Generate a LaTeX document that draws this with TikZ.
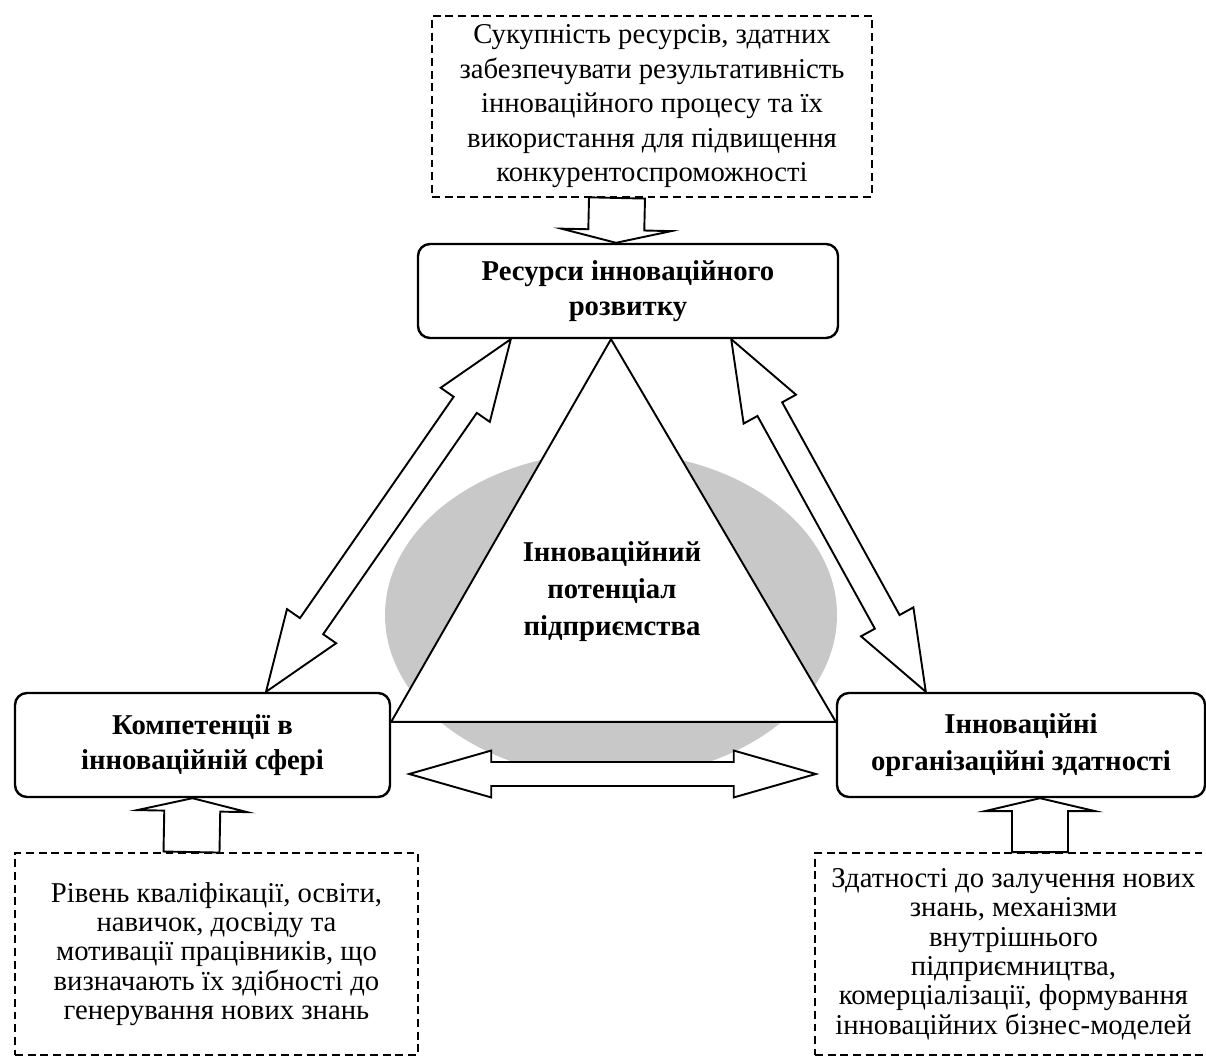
\documentclass[tikz,border=0pt]{standalone}
\usepackage{fontspec}
\setmainfont{Liberation Serif}
\usetikzlibrary{positioning,calc,shapes.geometric,backgrounds}
\definecolor{haloGray}{HTML}{C8C8C8}
\newcommand{\px}{0.418pt}
\tikzset{
  mainbox/.style={draw, line width=1pt, rounded corners=5pt, align=center,
                  font=\fontsize{12}{14.6}\selectfont\bfseries, inner sep=2pt},
  note/.style={draw, line width=0.8pt, dash pattern=on 3.3pt off 2pt,
               align=center, inner sep=2pt},
  tri/.style={draw, line width=0.8pt, fill=white, line join=miter},
  blockarrow/.style={draw, line width=0.8pt, fill=white, line join=miter},
}
% #1,#2 ends, #3 half shaft, #4 half head, #5 head length
\newcommand{\twoway}[5]{%
  \draw[blockarrow] (#1)
    -- ($(#1)!#5!(#2)!#4!90:(#2)$) -- ($(#1)!#5!(#2)!#3!90:(#2)$)
    -- ($(#2)!#5!(#1)!#3!-90:(#1)$) -- ($(#2)!#5!(#1)!#4!-90:(#1)$)
    -- (#2)
    -- ($(#2)!#5!(#1)!#4!90:(#1)$) -- ($(#2)!#5!(#1)!#3!90:(#1)$)
    -- ($(#1)!#5!(#2)!#3!-90:(#2)$) -- ($(#1)!#5!(#2)!#4!-90:(#2)$)
    -- cycle;}
% #1 tail, #2 tip
\newcommand{\oneway}[5]{%
  \draw[blockarrow] ($(#1)!#3!90:(#2)$)
    -- ($(#2)!#5!(#1)!#3!-90:(#1)$) -- ($(#2)!#5!(#1)!#4!-90:(#1)$)
    -- (#2)
    -- ($(#2)!#5!(#1)!#4!90:(#1)$) -- ($(#2)!#5!(#1)!#3!90:(#1)$)
    -- ($(#1)!#3!-90:(#2)$) -- cycle;}

\begin{document}
\begin{tikzpicture}[x=\px, y=-\px]
\useasboundingbox (0,0) rectangle (1206,1057);

%% ── the three blocks ──────────────────────────────────────────────────────
\node[mainbox, minimum width=420*\px, minimum height=94*\px] (res) at (628,291)
  {Ресурси інноваційного\\розвитку};
\node[mainbox, minimum width=375*\px, minimum height=104*\px] (comp) at (202.5,745)
  {Компетенції в\\інноваційній сфері};
\node[mainbox, minimum width=368*\px, minimum height=104*\px,
      font=\fontsize{12}{15.4}\selectfont\bfseries] (org) at (1021,745)
  {Інноваційні\\організаційні здатності};

%% ── the notes ─────────────────────────────────────────────────────────────
\node[note, minimum width=440*\px, minimum height=181*\px,
      font=\fontsize{12}{14.4}\selectfont] (src) at (652,106.5)
  {Сукупність ресурсів, здатних\\забезпечувати результативність\\
   інноваційного процесу та їх\\використання для підвищення\\
   конкурентоспроможності};
\node[note, minimum width=403*\px, minimum height=202*\px,
      font=\fontsize{12}{12.3}\selectfont] (qual) at (216.5,954)
  {Рівень кваліфікації, освіти,\\навичок, досвіду та\\
   мотивації працівників, що\\визначають їх здібності до\\
   генерування нових знань};
\node[note, minimum width=397*\px, minimum height=202*\px,
      font=\fontsize{12}{12.3}\selectfont] (abil) at (1013.5,954)
  {Здатності до залучення нових\\знань, механізми\\внутрішнього\\
   підприємництва,\\комерціалізації, формування\\інноваційних бізнес-моделей};

%% ── the core: halo and triangle ───────────────────────────────────────────
\coordinate (apex) at ($(res.south)+(-17,0)$);
\coordinate (lvert) at ($(comp.north east)+(0,30)$);
\coordinate (rvert) at ($(org.north west)+(0,30)$);
\begin{scope}[on background layer]
  \node[ellipse, fill=haloGray, minimum width=452*\px, minimum height=326*\px]
    (halo) at (611,615) {};
  \draw[tri] (apex) -- (lvert) -- (rvert) -- cycle;
\end{scope}
\node[align=center, font=\fontsize{12}{15.5}\selectfont\bfseries] (pot)
  at (612,592) {Інноваційний\\потенціал\\підприємства};

%% ── block arrows ──────────────────────────────────────────────────────────
\coordinate (srcout) at ($(src.south)+(-35,0)$);
\coordinate (resin) at ($(res.north)+(-12,0)$);
\oneway{srcout}{resin}{11.7pt}{23pt}{5.4pt}

\coordinate (qualout) at ($(qual.north)+(-25,0)$);
\coordinate (compin) at ($(comp.south)+(-10,0)$);
\oneway{qualout}{compin}{11.7pt}{23pt}{5.4pt}

\coordinate (abilout) at ($(abil.north)+(26.5,0)$);
\coordinate (orgin) at ($(org.south)+(19,0)$);
\oneway{abilout}{orgin}{11.7pt}{23pt}{5.4pt}

\coordinate (compr) at ($(comp.east)+(18,29)$);
\coordinate (orgl) at ($(org.west)+(-20,29)$);
\twoway{compr}{orgl}{5pt}{9.8pt}{34.3pt}

\coordinate (compt) at ($(comp.north)+(63.5,0)$);
\coordinate (resl) at ($(res.south west)+(94,0)$);
\twoway{compt}{resl}{5.9pt}{12.5pt}{33.4pt}

\coordinate (resr) at ($(res.south east)+(-108,0)$);
\coordinate (orgt) at ($(org.north west)+(90,0)$);
\twoway{resr}{orgt}{5.9pt}{12.5pt}{33.4pt}

\end{tikzpicture}
\end{document}
